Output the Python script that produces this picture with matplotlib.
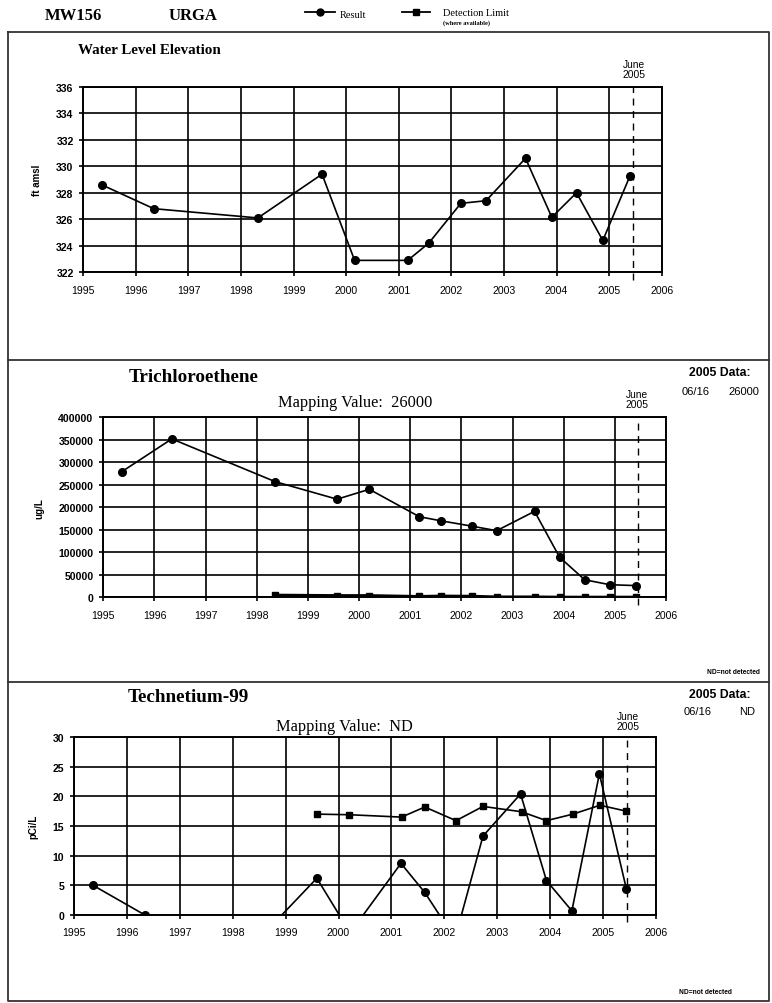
import matplotlib
matplotlib.use("Agg")
import matplotlib.pyplot as plt
from matplotlib.lines import Line2D
import numpy as np

# ---------------- data ----------------
wl_dates = [1995.35, 1996.34, 1998.32, 1999.54, 2000.16, 2001.17, 2001.57, 2002.18,
            2002.66, 2003.41, 2003.91, 2004.38, 2004.88, 2005.40]
wl_values = [328.6, 326.8, 326.1, 329.4, 322.9, 322.9, 324.2, 327.2,
             327.4, 330.6, 326.15, 328.0, 324.4, 329.3]

tce_dates = [1995.36, 1996.34, 1998.36, 1999.57, 2000.20, 2001.18, 2001.60, 2002.21,
             2002.69, 2003.43, 2003.92, 2004.41, 2004.90, 2005.42]
tce_values = [279000, 352000, 257000, 218000, 240000, 179000, 170000, 158000,
              148000, 191000, 89000, 39000, 28000, 26000]
tce_dl_dates = [1998.36, 1999.57, 2000.20, 2001.18, 2001.60, 2002.21, 2002.69,
                2003.43, 2003.92, 2004.41, 2004.90, 2005.42]
tce_dl_values = [5000, 4000, 4000, 2000, 3000, 2500, 1000, 1000, 500, 500, 500, 500]

tc_dates = [1995.36, 1996.34, 1998.35, 1999.59, 2000.22, 2001.18, 2001.63, 2002.20,
            2002.73, 2003.44, 2003.93, 2004.41, 2004.93, 2005.44]
tc_values = [5.0, 0.0, -5.4, 6.2, -3.0, 8.7, 3.8, -4.0,
             13.3, 20.4, 5.8, 0.7, 23.8, 4.4]
tc_dl_dates = [1999.60, 2000.20, 2001.19, 2001.63, 2002.22, 2002.73, 2003.46,
               2003.93, 2004.43, 2004.94, 2005.44]
tc_dl_values = [17.0, 16.9, 16.5, 18.2, 15.9, 18.3, 17.4, 15.9, 17.0, 18.5, 17.5]

years = list(range(1995, 2007))
june_2005 = 2005.45

SERIF = ["Liberation Serif", "DejaVu Serif"]
SANS = ["Liberation Sans", "DejaVu Sans"]

W, H = 772, 1004
fig = plt.figure(figsize=(W / 100, H / 100), dpi=100)


def fx(px):
    return px / W


def fy(py):
    return 1 - py / H


def make_axes(left, top, right, bottom):
    return fig.add_axes([fx(left), fy(bottom), fx(right - left), (bottom - top) / H])


def style(ax, ylim, yticks, ylabel):
    ax.set_xlim(1995, 2006)
    ax.set_ylim(*ylim)
    ax.set_xticks(years)
    ax.set_xticklabels([str(y) for y in years], fontsize=7.6, family=SANS)
    ax.set_yticks(yticks)
    ax.set_yticklabels([str(int(v)) for v in yticks], fontsize=7.6, family=SANS,
                       fontweight="bold")
    ax.grid(True, color="black", lw=1.2)
    for s in ax.spines.values():
        s.set_color("black")
        s.set_linewidth(1.4)
    ax.tick_params(axis="x", direction="out", length=3, width=1.2, pad=6)
    ax.tick_params(axis="y", direction="out", length=3, width=1.2, pad=4)
    ax.set_ylabel(ylabel, fontsize=7, family=SANS, fontweight="bold", labelpad=10)
    ax.set_axisbelow(True)


def june_line(ax):
    ax.axvline(june_2005, color="black", lw=1.0, ls=(0, (5, 4)), ymin=-0.04, ymax=1.0,
               clip_on=False)


line_kw = dict(color="black", lw=1.2, markersize=5.5)

# ---------------- header ----------------
fig.text(fx(73), fy(16), "MW156", family=SERIF, fontweight="bold", fontsize=12,
         ha="center", va="center")
fig.text(fx(193), fy(16), "URGA", family=SERIF, fontweight="bold", fontsize=12,
         ha="center", va="center")
fig.add_artist(Line2D([fx(305), fx(320), fx(335)], [fy(13)] * 3, transform=fig.transFigure,
                      marker="o", markevery=[1], color="black", lw=1.3, markersize=5))
fig.text(fx(340), fy(15), "Result", family=SERIF, fontsize=7.5, ha="left", va="center")
fig.add_artist(Line2D([fx(402), fx(416), fx(430)], [fy(13)] * 3, transform=fig.transFigure,
                      marker="s", markevery=[1], color="black", lw=1.3, markersize=4.5))
fig.text(fx(443), fy(14), "Detection Limit", family=SERIF, fontsize=7.5, ha="left",
         va="center")
fig.text(fx(443), fy(23), "(where available)", family=SERIF, fontsize=4.6, ha="left",
         va="center", fontweight="bold")

# frame and separators
frame_kw = dict(transform=fig.transFigure, color="#333333", lw=1.3)
fig.add_artist(Line2D([fx(8), fx(769), fx(769), fx(8), fx(8)],
                      [fy(33), fy(33), fy(1002), fy(1002), fy(33)], **frame_kw))
fig.add_artist(Line2D([fx(8), fx(769)], [fy(361), fy(361)], **frame_kw))
fig.add_artist(Line2D([fx(8), fx(769)], [fy(683), fy(683)], **frame_kw))

small = dict(family=SANS, fontsize=7.4, ha="center", va="center", linespacing=1.05)

# ---------------- panel 1: water level ----------------
ax1 = make_axes(83.3, 87.7, 661.7, 273.3)
style(ax1, (322, 336), list(range(322, 337, 2)), "ft amsl")
ax1.plot(wl_dates, wl_values, marker="o", **line_kw)
june_line(ax1)
fig.text(fx(149), fy(50), "Water Level Elevation", family=SERIF, fontweight="bold",
         fontsize=10.8, ha="center", va="center")
fig.text(fx(634), fy(70), "June\n2005", **small)

# ---------------- panel 2: TCE ----------------
ax2 = make_axes(103.3, 418.3, 666, 598.3)
style(ax2, (0, 400000), list(range(0, 400001, 50000)), "ug/L")
ax2.plot(tce_dates, tce_values, marker="o", **line_kw)
ax2.plot(tce_dl_dates, tce_dl_values, marker="s", color="black", lw=2.0, markersize=5)
june_line(ax2)
fig.text(fx(194), fy(377), "Trichloroethene", family=SERIF, fontweight="bold",
         fontsize=13.8, ha="center", va="center")
fig.text(fx(355), fy(403), "Mapping Value:  26000", family=SERIF, fontsize=11.8,
         ha="center", va="center")
fig.text(fx(637), fy(400), "June\n2005", **small)
fig.text(fx(720), fy(373), "2005 Data:", family=SANS, fontweight="bold", fontsize=8.8,
         ha="center", va="center")
fig.text(fx(682), fy(392), "06/16", family=SANS, fontsize=8, ha="left", va="center")
fig.text(fx(759), fy(392), "26000", family=SANS, fontsize=8, ha="right", va="center")
fig.text(fx(733), fy(673), "ND=not detected", family=SANS, fontsize=4.8, ha="center",
         va="center", fontweight="bold")

# ---------------- panel 3: Tc-99 ----------------
ax3 = make_axes(74, 738, 656, 916)
style(ax3, (0, 30), list(range(0, 31, 5)), "pCi/L")
ax3.plot(tc_dates, tc_values, marker="o", **line_kw)
ax3.plot(tc_dl_dates, tc_dl_values, marker="s", color="black", lw=1.2, markersize=5)
june_line(ax3)
fig.text(fx(188), fy(698), "Technetium-99", family=SERIF, fontweight="bold",
         fontsize=13.8, ha="center", va="center")
fig.text(fx(344), fy(727), "Mapping Value:  ND", family=SERIF, fontsize=11.8,
         ha="center", va="center")
fig.text(fx(628), fy(722), "June\n2005", **small)
fig.text(fx(720), fy(695), "2005 Data:", family=SANS, fontweight="bold", fontsize=8.8,
         ha="center", va="center")
fig.text(fx(684), fy(712), "06/16", family=SANS, fontsize=8, ha="left", va="center")
fig.text(fx(755), fy(712), "ND", family=SANS, fontsize=8, ha="right", va="center")
fig.text(fx(705), fy(993), "ND=not detected", family=SANS, fontsize=4.8, ha="center",
         va="center", fontweight="bold")

fig.savefig("out.png", dpi=100)
